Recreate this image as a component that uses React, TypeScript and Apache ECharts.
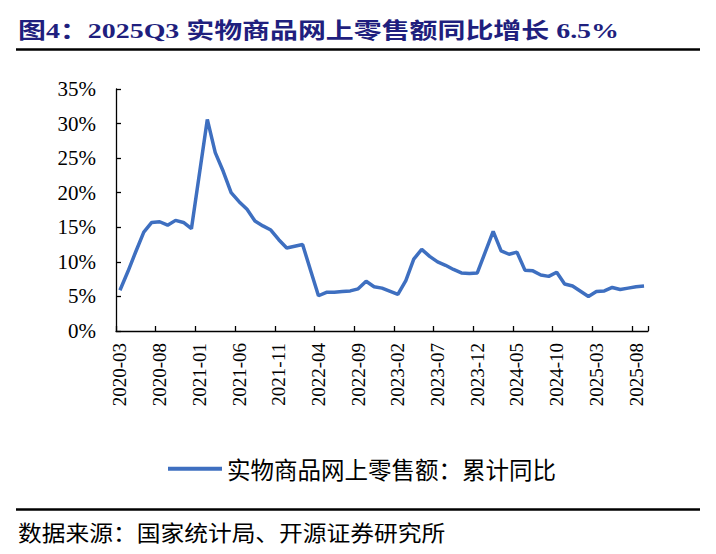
import React, { useEffect, useRef } from "react";
import * as echarts from "echarts";

const titleText = "图4：2025Q3 实物商品网上零售额同比增长 6.5%";
const seriesName = "实物商品网上零售额：累计同比";
const sourceText = "数据来源：国家统计局、开源证券研究所";
const lastLabel = "6.5%";

const categories = [
  "2020-03", "2020-04", "2020-05", "2020-06", "2020-07", "2020-08", "2020-09", "2020-10", "2020-11", "2020-12",
  "2021-01", "2021-02", "2021-03", "2021-04", "2021-05", "2021-06", "2021-07", "2021-08", "2021-09", "2021-10", "2021-11", "2021-12",
  "2022-01", "2022-02", "2022-03", "2022-04", "2022-05", "2022-06", "2022-07", "2022-08", "2022-09", "2022-10", "2022-11", "2022-12",
  "2023-01", "2023-02", "2023-03", "2023-04", "2023-05", "2023-06", "2023-07", "2023-08", "2023-09", "2023-10", "2023-11", "2023-12",
  "2024-01", "2024-02", "2024-03", "2024-04", "2024-05", "2024-06", "2024-07", "2024-08", "2024-09", "2024-10", "2024-11", "2024-12",
  "2025-01", "2025-02", "2025-03", "2025-04", "2025-05", "2025-06", "2025-07", "2025-08", "2025-09",
];

const values2020 = [5.9, 8.6, 11.5, 14.3, 15.7, 15.8, 15.3, 16.0, 15.7, 14.8];
const values2021 = [null, 30.6, 25.8, 23.1, 20.0, 18.7, 17.6, 15.9, 15.2, 14.6, 13.2, 12.0];
const values2022 = [null, 12.5, 8.8, 5.1, 5.6, 5.6, 5.7, 5.8, 6.1, 7.2, 6.4, 6.2];
const values2023 = [null, 5.3, 7.3, 10.4, 11.8, 10.8, 10.0, 9.5, 8.9, 8.4, 8.3, 8.4];
const values2024 = [null, 14.4, 11.6, 11.1, 11.4, 8.8, 8.7, 8.1, 7.9, 8.5, 6.8, 6.5];
const values2025 = [null, 5.0, 5.7, 5.8, 6.3, 6.0, 6.2, 6.4, 6.5];

const yMin = 0;
const yMax = 35;
const yStep = 5;

export default function App() {
  const ref = useRef<HTMLDivElement>(null);

  useEffect(() => {
    if (!ref.current) return;
    const chart = echarts.init(ref.current, undefined, { renderer: "svg" });
    const values: (number | null)[] = [
      ...values2020,
      ...values2021,
      ...values2022,
      ...values2023,
      ...values2024,
      ...values2025,
    ];
    const data = values.map((v, i) =>
      i === values.length - 1
        ? {
            value: v,
            label: {
              show: true,
              position: "top",
              distance: 20,
              offset: [-4, 0],
              formatter: lastLabel,
              fontSize: 25,
              fontFamily: "'Liberation Serif', 'Times New Roman', serif",
              color: "#000",
            },
          }
        : v
    );

    const serif = "'Liberation Serif', 'Times New Roman', serif";

    chart.setOption({
      animation: false,
      backgroundColor: "#fff",
      grid: { left: 116, right: 68, top: 89, bottom: 223, containLabel: false },
      legend: {
        show: true,
        left: 163,
        top: 452,
        icon: "rect",
        itemWidth: 54,
        itemHeight: 4,
        itemGap: 10,
        textStyle: {
          fontSize: 23.5,
          fontFamily: "'Noto Sans CJK SC', sans-serif",
          color: "#000",
          padding: [0, 0, 0, 0],
        },
        data: [seriesName],
      },
      xAxis: {
        type: "category",
        data: categories,
        boundaryGap: true,
        axisLine: { show: true, lineStyle: { color: "#000", width: 1.3 } },
        axisTick: { show: true, inside: true, interval: 4, length: 5, lineStyle: { color: "#000", width: 1.3 } },
        axisLabel: {
          interval: 4,
          rotate: 90,
          margin: 12,
          fontSize: 19,
          fontFamily: serif,
          color: "#000",
        },
        splitLine: { show: false },
      },
      yAxis: {
        type: "value",
        min: yMin,
        max: yMax,
        interval: yStep,
        axisLine: { show: true, lineStyle: { color: "#000", width: 1.3 } },
        axisTick: { show: true, inside: true, length: 5, lineStyle: { color: "#000", width: 1.3 } },
        axisLabel: {
          formatter: "{value}%",
          margin: 20,
          fontSize: 21,
          fontFamily: serif,
          color: "#000",
        },
        splitLine: { show: false },
      },
      series: [
        {
          name: seriesName,
          type: "line",
          data,
          connectNulls: true,
          showSymbol: false,
          symbol: "none",
          lineStyle: { color: "#3E6FC0", width: 3.5 },
          itemStyle: { color: "#3E6FC0" },
        },
      ],
      graphic: [
        {
          type: "text",
          x: 18,
          y: 31,
          scaleX: 1.27,
          style: {
            text: titleText,
            x: 0,
            y: 0,
            textAlign: "left",
            textVerticalAlign: "middle",
            font: "bold 22px 'Liberation Serif', 'Noto Sans CJK SC', serif",
            fill: "#1F1F7E",
          },
        },
        {
          type: "line",
          shape: { x1: 16, y1: 49.5, x2: 700, y2: 49.5 },
          style: { stroke: "#000", lineWidth: 2.5 },
        },
        {
          type: "line",
          shape: { x1: 16, y1: 509.5, x2: 700, y2: 509.5 },
          style: { stroke: "#000", lineWidth: 2.5 },
        },
        {
          type: "text",
          x: 18,
          y: 531,
          scaleX: 1.08,
          style: {
            text: sourceText,
            x: 0,
            y: 0,
            textAlign: "left",
            textVerticalAlign: "middle",
            font: "22px 'Noto Sans CJK SC', sans-serif",
            fill: "#000",
          },
        },
      ],
    });

    return () => {
      chart.dispose();
    };
  }, []);

  return (
    <div
      ref={ref}
      style={{ position: "absolute", left: 0, top: 0, width: 716, height: 554, background: "#fff" }}
    />
  );
}
